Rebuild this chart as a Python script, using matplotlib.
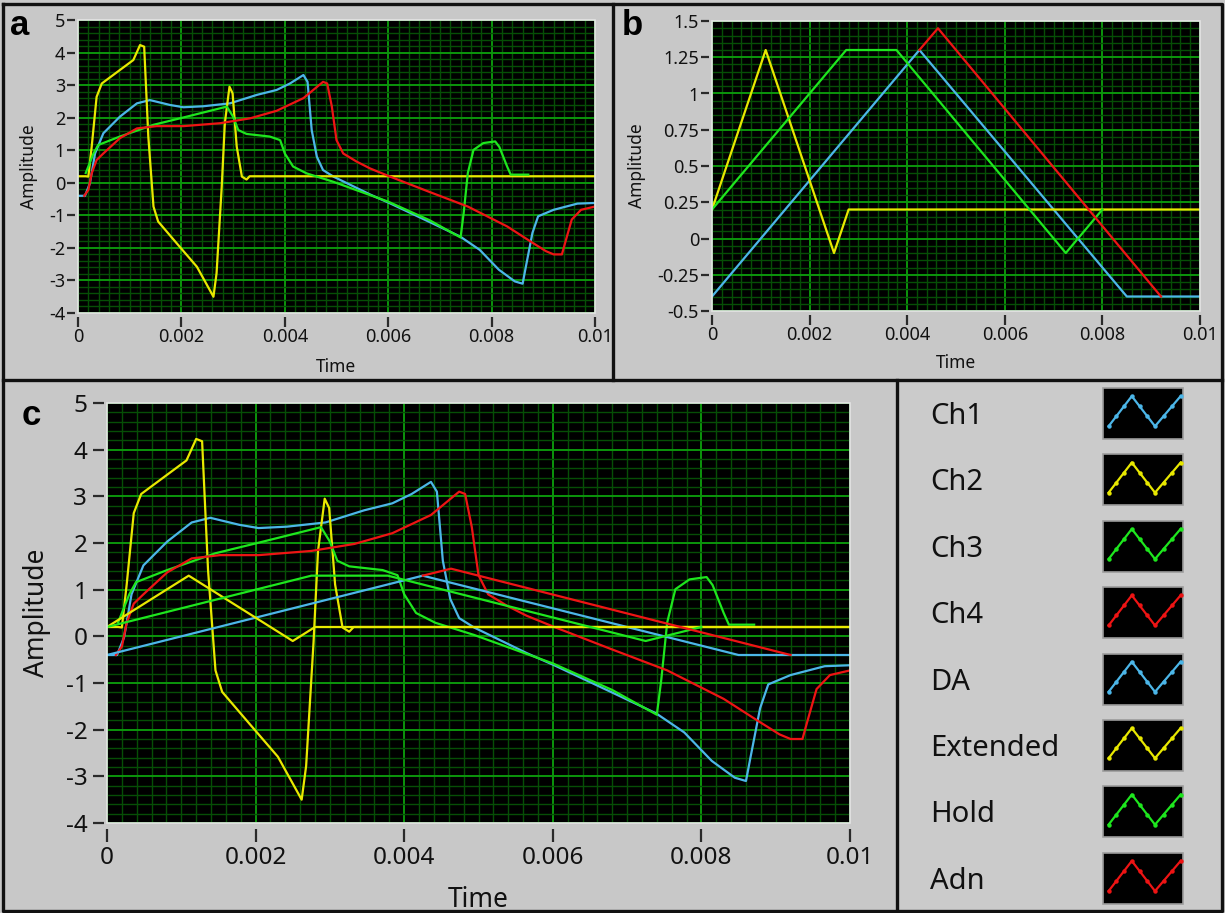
import numpy as np
import matplotlib
matplotlib.use("Agg")
import matplotlib.pyplot as plt
from matplotlib.patches import Rectangle
from matplotlib.colors import LinearSegmentedColormap

plt.rcParams["font.family"] = ["Noto Sans", "DejaVu Sans"]
plt.rcParams["axes.unicode_minus"] = False

#%% data (time in s, amplitude)
ch1_t = [0, 0.000135, 0.00023, 0.00033, 0.00049, 0.00081, 0.00114, 0.00139, 0.00178, 0.00204,
         0.00242, 0.00294, 0.00346, 0.00384, 0.0041, 0.00436, 0.00444, 0.00452, 0.00462, 0.00474,
         0.00494, 0.00565, 0.00602, 0.00678, 0.00739, 0.00777, 0.00814, 0.00845, 0.0086, 0.00866,
         0.00879, 0.0089, 0.0092, 0.00966, 0.01]
ch1_v = [-0.4, -0.4, -0.02, 0.9, 1.52, 2.03, 2.44, 2.54, 2.39, 2.32,
         2.35, 2.44, 2.7, 2.85, 3.05, 3.31, 3.1, 1.62, 0.8, 0.39,
         0.19, -0.36, -0.62, -1.19, -1.65, -2.06, -2.67, -3.03, -3.1, -2.6,
         -1.54, -1.03, -0.83, -0.64, -0.62]

ch2_t = [0, 0.00015, 0.0002, 0.000265, 0.00036, 0.00046, 0.00068, 0.00107, 0.0012, 0.00128,
         0.00136, 0.00146, 0.00155, 0.00191, 0.0023, 0.00262, 0.00268, 0.00278, 0.00284, 0.00293,
         0.00299, 0.00307, 0.00317, 0.00326, 0.00332, 0.01]
ch2_v = [0.2, 0.2, 0.19, 1.11, 2.64, 3.05, 3.31, 3.77, 4.23, 4.18,
         1.42, -0.73, -1.19, -1.86, -2.58, -3.5, -2.78, -0.12, 1.83, 2.95,
         2.75, 1.11, 0.19, 0.1, 0.2, 0.2]

ch3_t = [0.00015, 0.0002, 0.0003, 0.00039, 0.00081, 0.00146, 0.0021, 0.00288, 0.003, 0.0031,
         0.00326, 0.00371, 0.00391, 0.004, 0.00416, 0.00442, 0.00494, 0.006, 0.0068, 0.0074,
         0.00746, 0.00754, 0.00765, 0.00784, 0.00807, 0.00815, 0.0083, 0.00837, 0.00871]
ch3_v = [0.3, 0.5, 0.9, 1.16, 1.42, 1.78, 2.03, 2.34, 2.03, 1.62,
         1.5, 1.42, 1.31, 0.9, 0.5, 0.29, 0.03, -0.58, -1.15, -1.68,
         -0.93, 0.3, 1.01, 1.22, 1.27, 1.1, 0.5, 0.25, 0.25]

ch4_t = [0.00012, 0.0002, 0.000265, 0.00036, 0.00049, 0.00081, 0.00114, 0.00152, 0.00204, 0.00275,
         0.00333, 0.00384, 0.00436, 0.00474, 0.00482, 0.00491, 0.005, 0.00513, 0.00539, 0.00565,
         0.00602, 0.00678, 0.00754, 0.0083, 0.00875, 0.00905, 0.0092, 0.00936, 0.00943, 0.00955,
         0.00973, 0.01]
ch4_v = [-0.4, -0.22, 0.29, 0.7, 0.9, 1.37, 1.67, 1.74, 1.74, 1.83,
         1.98, 2.21, 2.6, 3.1, 3.05, 2.34, 1.31, 0.9, 0.65, 0.44,
         0.2, -0.27, -0.73, -1.34, -1.8, -2.1, -2.2, -2.2, -1.8, -1.13,
         -0.83, -0.73]

da_t = [0, 0.00425, 0.0085, 0.01]
da_v = [-0.4, 1.3, -0.4, -0.4]
ext_t = [0, 0.0011, 0.0025, 0.0028, 0.01]
ext_v = [0.2, 1.3, -0.1, 0.2, 0.2]
hold_t = [0, 0.00275, 0.00378, 0.00725, 0.008]
hold_v = [0.2, 1.3, 1.3, -0.1, 0.2]
adn_t = [0.00425, 0.00463, 0.0092]
adn_v = [1.3, 1.45, -0.4]

names = ["Ch1", "Ch2", "Ch3", "Ch4", "DA", "Extended", "Hold", "Adn"]
colors = ["#4cb6e8", "#e8e800", "#1ee61e", "#ee1414", "#4cb6e8", "#e8e800", "#1ee61e", "#ee1414"]
raw = [(ch1_t, ch1_v), (ch2_t, ch2_v), (ch3_t, ch3_v), (ch4_t, ch4_v)]
shaped = [(da_t, da_v), (ext_t, ext_v), (hold_t, hold_v), (adn_t, adn_v)]

x_ticks = [0, 0.002, 0.004, 0.006, 0.008, 0.01]
x_labels = ["0", "0.002", "0.004", "0.006", "0.008", "0.01"]
ya_ticks = [-4, -3, -2, -1, 0, 1, 2, 3, 4, 5]
ya_labels = [str(v) for v in ya_ticks]
yb_ticks = [-0.5, -0.25, 0, 0.25, 0.5, 0.75, 1, 1.25, 1.5]
yb_labels = ["-0.5", "-0.25", "0", "0.25", "0.5", "0.75", "1", "1.25", "1.5"]

# zig-zag drawn in the legend swatches (fraction of swatch box)
zig_x = [0.07, 0.36, 0.65, 0.97]
zig_y = [0.25, 0.84, 0.25, 0.84]

#%% style
PANEL = "#c8c8c8"
GRID_MAJOR = "#0c960c"
GRID_MINOR = "#064e06"
TXT = "#111111"
W, H = 1225, 913

fig = plt.figure(figsize=(W / 100, H / 100), dpi=100, facecolor=PANEL)


def px_box(l, t, r, b):
    return [l / W, 1 - b / H, (r - l) / W, (b - t) / H]


def style_axes(ax, yt, yl, ylim, yminor, big):
    ax.set_facecolor("black")
    ax.set_xlim(0, 0.01)
    ax.set_ylim(*ylim)
    ax.set_xticks(x_ticks, x_labels)
    ax.set_yticks(yt, yl)
    ax.set_xticks(np.arange(0, 0.01 + 1e-9, 0.0002), minor=True)
    ax.set_yticks(np.arange(ylim[0], ylim[1] + 1e-9, yminor), minor=True)
    ax.grid(which="minor", color=GRID_MINOR, lw=1.0)
    ax.grid(which="major", color=GRID_MAJOR, lw=1.4)
    ax.set_axisbelow(True)
    for s in ax.spines.values():
        s.set_visible(False)
    if big:
        ax.spines["left"].set_position(("outward", 2.2))
        ax.spines["bottom"].set_position(("outward", 4.3))
        ax.tick_params(axis="y", length=8, pad=4, labelsize=17.5)
        ax.tick_params(axis="x", length=9.4, pad=3, labelsize=17.5)
    else:
        ax.spines["left"].set_position(("outward", 2.0))
        ax.spines["bottom"].set_position(("outward", 2.9))
        ax.tick_params(axis="y", length=5.8, pad=1.5, labelsize=13)
        ax.tick_params(axis="x", length=7.2, pad=1, labelsize=13)
    ax.tick_params(which="major", width=1.6, color="#2a2a2a", labelcolor=TXT)
    ax.tick_params(which="minor", length=0)
    ax.add_patch(Rectangle((0, 0), 1, 1, transform=ax.transAxes, fill=False,
                           edgecolor="#e4e4e4", lw=1.2, clip_on=False, zorder=5))


# background canvas with frames and the legend panel
bg = fig.add_axes([0, 0, 1, 1], zorder=0)
bg.axis("off")
bg.add_patch(Rectangle((899, 382), 323, 529, facecolor="#cbcbcb", edgecolor="none"))
shade = LinearSegmentedColormap.from_list("shade", ["#c8c8c8", "#7c7c7c"])
bg.imshow(np.linspace(0, 1, 64)[None, :], extent=(1190, 1222, 911, 383), cmap=shade,
          aspect="auto", origin="upper")
bg.imshow(np.linspace(0, 1, 32)[:, None], extent=(899, 1222, 911, 902), cmap=shade,
          aspect="auto", origin="upper", vmax=2)
bg.set_xlim(0, W)
bg.set_ylim(H, 0)

for i, name in enumerate(names):
    yc = 413.5 + i * 66.4
    bg.text(930, yc + 10.5, name, fontsize=21, color=TXT, va="baseline", ha="left")
    bg.add_patch(Rectangle((1103, yc - 25.5), 80, 51, facecolor="black",
                           edgecolor="#9c9c9c", lw=1.2))
    zx = [1103 + 80 * f for f in zig_x]
    zy = [yc + 25.5 - 51 * f for f in zig_y]
    bg.plot(zx, zy, color=colors[i], lw=1.6)
    mx = np.interp(np.linspace(0, 3, 10), [0, 1, 2, 3], zx)
    my = np.interp(np.linspace(0, 3, 10), [0, 1, 2, 3], zy)
    bg.plot(mx, my, ls="none", marker="o", ms=2.2, color=colors[i])

frame = dict(color="#111111", lw=2.4, solid_capstyle="projecting")
bg.plot([3, 1222, 1222, 3, 3], [4, 4, 911, 911, 4], **frame)
bg.plot([3, 1222], [380, 380], **frame)
bg.plot([613, 613], [4, 380], **frame)
bg.plot([897, 897], [380, 911], **frame)

bg.text(10, 35, "a", fontsize=25, fontweight="bold", family="Liberation Sans", va="baseline", color="black")
bg.text(622, 35, "b", fontsize=25, fontweight="bold", family="Liberation Sans", va="baseline", color="black")
bg.text(22, 425, "c", fontsize=25, fontweight="bold", family="Liberation Sans", va="baseline", color="black")

#%% panels
ax1 = fig.add_axes(px_box(78, 20, 595, 313), zorder=2)
ax2 = fig.add_axes(px_box(712, 21, 1200, 311), zorder=2)
ax3 = fig.add_axes(px_box(107, 403, 850, 823), zorder=2)

style_axes(ax1, ya_ticks, ya_labels, (-4, 5), 0.2, False)
style_axes(ax2, yb_ticks, yb_labels, (-0.5, 1.5), 0.05, False)
style_axes(ax3, ya_ticks, ya_labels, (-4, 5), 0.2, True)

for (t, v), c in zip(raw, colors[:4]):
    ax1.plot(t, v, color=c, lw=1.6)
for (t, v), c in zip(shaped, colors[4:]):
    ax2.plot(t, v, color=c, lw=1.6)
for (t, v), c in zip(raw + shaped, colors):
    ax3.plot(t, v, color=c, lw=1.6)

for ax, big, lx, ly in [(ax1, False, -0.0948, -0.184), (ax2, False, -0.154, -0.179),
                        (ax3, True, -0.0942, -0.183)]:
    fs = 19 if big else 12.5
    ax.set_xlabel("Time", fontsize=fs, color=TXT, va="center")
    ax.set_ylabel("Amplitude", fontsize=fs, color=TXT, va="center")
    ax.xaxis.set_label_coords(0.5, ly)
    ax.yaxis.set_label_coords(lx, 0.5)

fig.savefig("out.png", dpi=100, facecolor=PANEL)
